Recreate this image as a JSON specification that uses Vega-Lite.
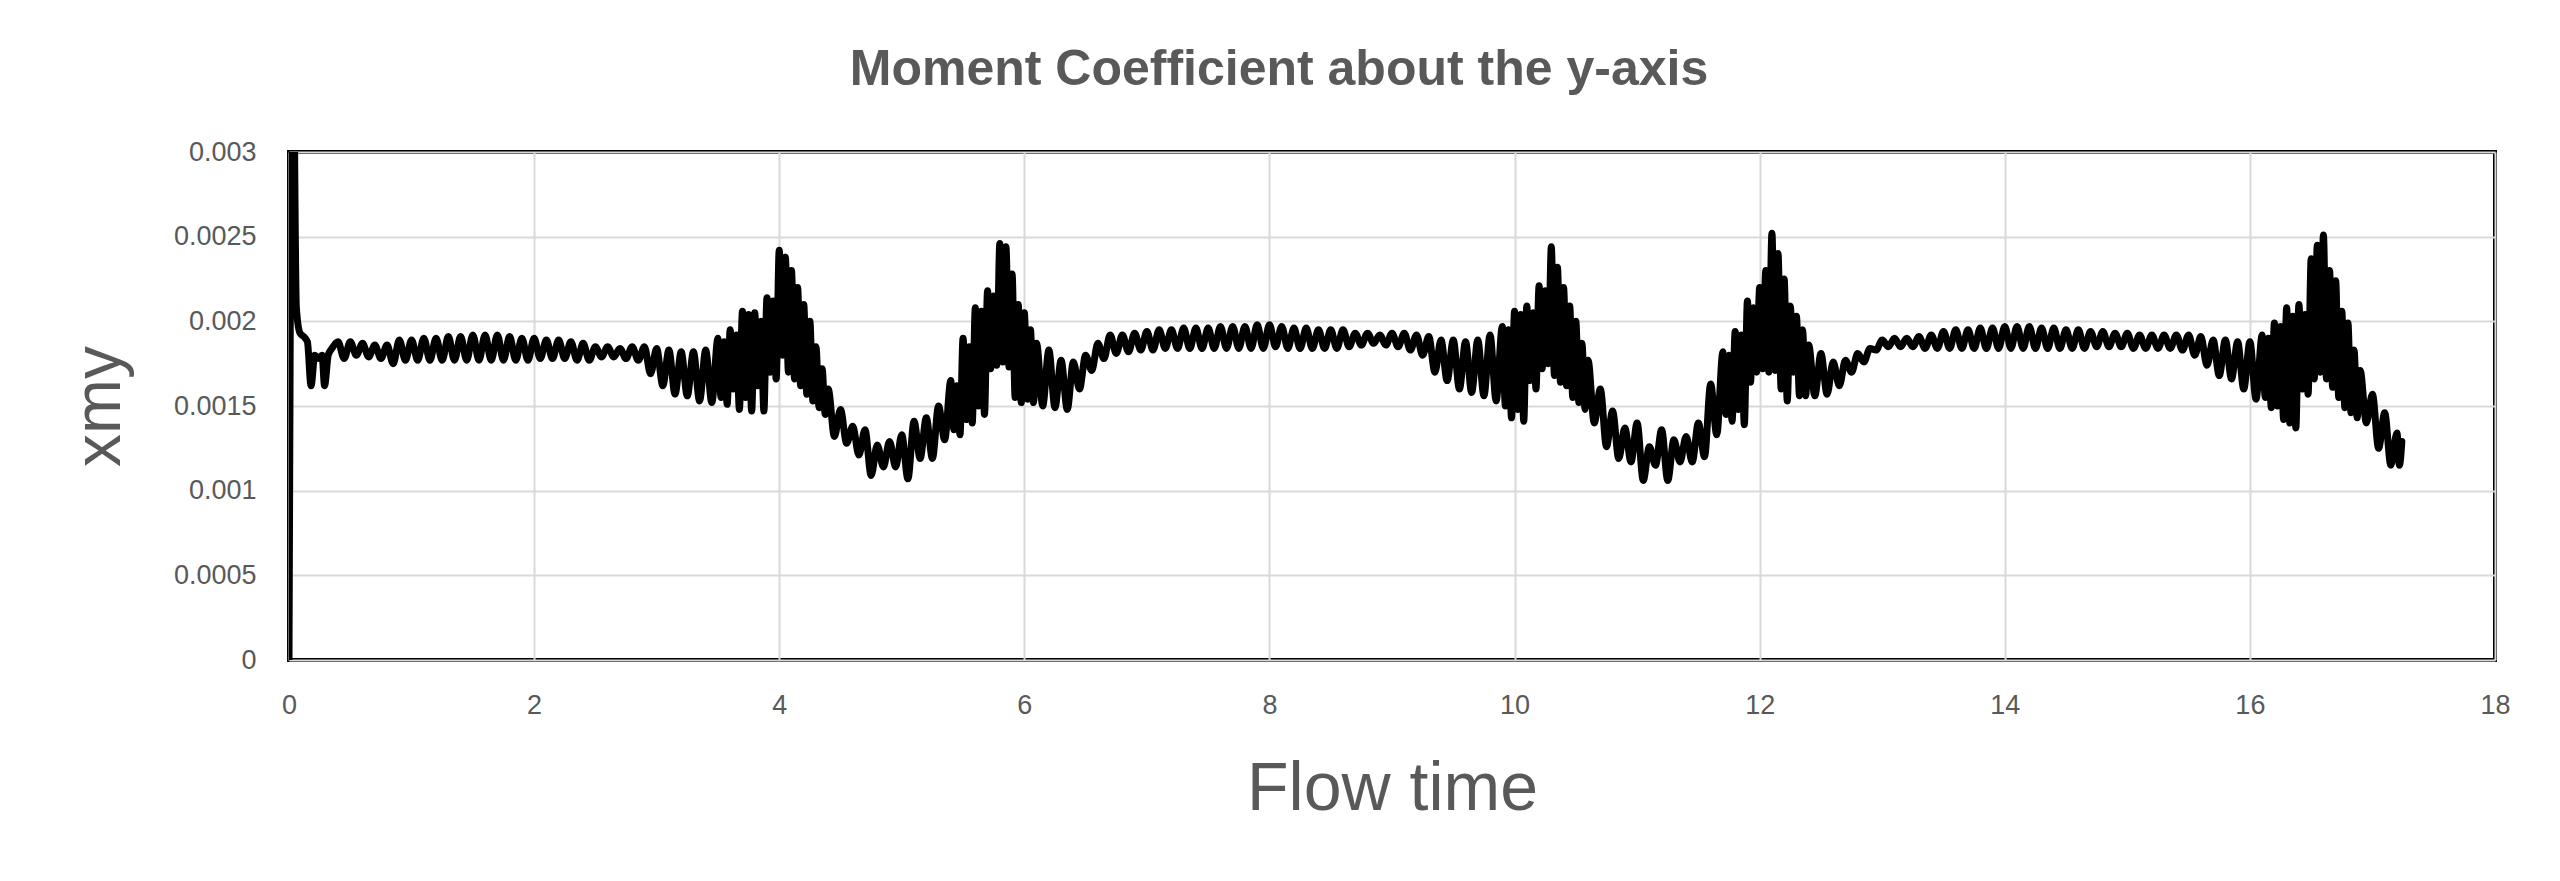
{
  "$schema": "https://vega.github.io/schema/vega-lite/v6.json",
  "width": 2206,
  "height": 508,
  "autosize": {"type": "none"},
  "padding": {"left": 289, "top": 152, "right": 65, "bottom": 221},
  "background": "white",
  "title": {
    "text": "Moment Coefficient about the y-axis",
    "font": "Liberation Sans",
    "fontSize": 50,
    "fontWeight": "bold",
    "color": "#595959",
    "anchor": "middle",
    "dx": -113,
    "baseline": "alphabetic",
    "offset": 3
  },
  "config": {
    "view": {"stroke": "#000000", "strokeWidth": 4},
    "axis": {
      "labelFont": "Liberation Sans",
      "titleFont": "Liberation Sans",
      "labelColor": "#595959",
      "titleColor": "#595959",
      "titleFontWeight": "normal",
      "gridColor": "#d9d9d9",
      "gridWidth": 2,
      "domain": false,
      "ticks": false
    }
  },
  "data": {
    "values": [
      {"t":0,"xmy":0},{"t":0.03,"xmy":0.004},{"t":0.06,"xmy":0.00208},{"t":0.09,"xmy":0.00193},{"t":0.12,"xmy":0.00191},{"t":0.15,"xmy":0.00188},{"t":0.18,"xmy":0.00162},{"t":0.21,"xmy":0.0018},{"t":0.24,"xmy":0.00178},{"t":0.27,"xmy":0.0018},{"t":0.29,"xmy":0.00162},{"t":0.32,"xmy":0.0018},{"t":0.35,"xmy":0.00184},
      {"t":0.4,"xmy":0.00188},{"t":0.45,"xmy":0.00178},{"t":0.5,"xmy":0.00188},{"t":0.55,"xmy":0.0018},{"t":0.6,"xmy":0.00187},{"t":0.65,"xmy":0.00179},{"t":0.7,"xmy":0.00186},{"t":0.75,"xmy":0.00178},{"t":0.8,"xmy":0.00186},{"t":0.85,"xmy":0.00175},{"t":0.9,"xmy":0.00189},{"t":0.95,"xmy":0.00177},
      {"t":1.0,"xmy":0.00189},{"t":1.05,"xmy":0.00177},{"t":1.1,"xmy":0.0019},{"t":1.15,"xmy":0.00177},{"t":1.2,"xmy":0.0019},{"t":1.25,"xmy":0.00177},{"t":1.3,"xmy":0.00191},{"t":1.35,"xmy":0.00177},{"t":1.4,"xmy":0.00191},{"t":1.45,"xmy":0.00177},{"t":1.5,"xmy":0.00192},{"t":1.55,"xmy":0.00177},{"t":1.6,"xmy":0.00192},{"t":1.65,"xmy":0.00177},{"t":1.7,"xmy":0.00192},{"t":1.75,"xmy":0.00177},{"t":1.8,"xmy":0.00191},{"t":1.85,"xmy":0.00177},{"t":1.9,"xmy":0.0019},{"t":1.95,"xmy":0.00177},
      {"t":2.0,"xmy":0.0019},{"t":2.05,"xmy":0.00178},{"t":2.1,"xmy":0.00189},{"t":2.15,"xmy":0.00178},{"t":2.2,"xmy":0.00189},{"t":2.25,"xmy":0.00178},{"t":2.3,"xmy":0.00188},{"t":2.35,"xmy":0.00177},{"t":2.4,"xmy":0.00187},{"t":2.45,"xmy":0.00177},{"t":2.5,"xmy":0.00185},{"t":2.55,"xmy":0.00179},{"t":2.6,"xmy":0.00185},{"t":2.65,"xmy":0.00179},{"t":2.7,"xmy":0.00184},{"t":2.75,"xmy":0.00178},{"t":2.8,"xmy":0.00185},{"t":2.85,"xmy":0.00177},{"t":2.9,"xmy":0.00185},{"t":2.95,"xmy":0.00169},
      {"t":3.0,"xmy":0.00184},{"t":3.05,"xmy":0.00162},{"t":3.1,"xmy":0.00183},{"t":3.15,"xmy":0.00157},{"t":3.2,"xmy":0.00182},{"t":3.25,"xmy":0.00156},{"t":3.3,"xmy":0.00182},{"t":3.35,"xmy":0.00153},{"t":3.4,"xmy":0.00183},{"t":3.45,"xmy":0.00152},
      {"t":3.5,"xmy":0.0019},{"t":3.525,"xmy":0.00155},{"t":3.55,"xmy":0.00188},{"t":3.575,"xmy":0.00151},{"t":3.6,"xmy":0.00195},{"t":3.625,"xmy":0.0016},{"t":3.65,"xmy":0.00192},{"t":3.675,"xmy":0.00148},{"t":3.7,"xmy":0.00206},{"t":3.725,"xmy":0.00155},{"t":3.75,"xmy":0.00204},{"t":3.775,"xmy":0.00147},{"t":3.8,"xmy":0.00205},{"t":3.825,"xmy":0.00162},{"t":3.85,"xmy":0.002},{"t":3.875,"xmy":0.00147},{"t":3.9,"xmy":0.00214},{"t":3.925,"xmy":0.0017},{"t":3.95,"xmy":0.00212},{"t":3.975,"xmy":0.00166},
      {"t":4.0,"xmy":0.00242},{"t":4.025,"xmy":0.0018},{"t":4.05,"xmy":0.00238},{"t":4.075,"xmy":0.0017},{"t":4.1,"xmy":0.0023},{"t":4.125,"xmy":0.00166},{"t":4.15,"xmy":0.0022},{"t":4.175,"xmy":0.00162},{"t":4.2,"xmy":0.0021},{"t":4.225,"xmy":0.00157},{"t":4.25,"xmy":0.002},{"t":4.275,"xmy":0.00153},{"t":4.3,"xmy":0.00185},{"t":4.325,"xmy":0.00149},{"t":4.35,"xmy":0.00172},{"t":4.375,"xmy":0.00145},
      {"t":4.4,"xmy":0.0016},{"t":4.45,"xmy":0.00132},{"t":4.5,"xmy":0.00148},{"t":4.55,"xmy":0.00128},{"t":4.6,"xmy":0.00138},{"t":4.65,"xmy":0.00121},{"t":4.7,"xmy":0.00136},{"t":4.75,"xmy":0.00109},{"t":4.8,"xmy":0.00127},{"t":4.85,"xmy":0.00114},{"t":4.9,"xmy":0.00129},{"t":4.95,"xmy":0.00114},
      {"t":5.0,"xmy":0.00133},{"t":5.05,"xmy":0.00107},{"t":5.1,"xmy":0.00141},{"t":5.15,"xmy":0.00119},{"t":5.2,"xmy":0.00143},{"t":5.25,"xmy":0.00119},{"t":5.3,"xmy":0.0015},{"t":5.35,"xmy":0.0013},
      {"t":5.4,"xmy":0.00165},{"t":5.425,"xmy":0.00136},{"t":5.45,"xmy":0.00162},{"t":5.475,"xmy":0.00133},{"t":5.5,"xmy":0.0019},{"t":5.525,"xmy":0.00142},{"t":5.55,"xmy":0.00185},{"t":5.575,"xmy":0.0014},{"t":5.6,"xmy":0.00208},{"t":5.625,"xmy":0.0015},{"t":5.65,"xmy":0.00206},{"t":5.675,"xmy":0.00145},{"t":5.7,"xmy":0.00218},{"t":5.725,"xmy":0.00172},{"t":5.75,"xmy":0.00215},{"t":5.775,"xmy":0.00174},{"t":5.8,"xmy":0.00246},{"t":5.825,"xmy":0.00176},{"t":5.85,"xmy":0.00244},{"t":5.875,"xmy":0.00173},{"t":5.9,"xmy":0.00228},{"t":5.925,"xmy":0.00155},{"t":5.95,"xmy":0.0021},{"t":5.975,"xmy":0.00152},{"t":6.0,"xmy":0.00205},{"t":6.025,"xmy":0.00154},{"t":6.05,"xmy":0.00195},{"t":6.075,"xmy":0.00152},
      {"t":6.1,"xmy":0.00187},{"t":6.15,"xmy":0.0015},{"t":6.2,"xmy":0.00183},{"t":6.25,"xmy":0.00149},{"t":6.3,"xmy":0.00177},{"t":6.35,"xmy":0.00148},{"t":6.4,"xmy":0.00176},{"t":6.45,"xmy":0.0016},{"t":6.5,"xmy":0.0018},{"t":6.55,"xmy":0.00171},{"t":6.6,"xmy":0.00187},{"t":6.65,"xmy":0.00178},{"t":6.7,"xmy":0.00192},{"t":6.75,"xmy":0.00181},{"t":6.8,"xmy":0.00192},{"t":6.85,"xmy":0.00182},{"t":6.9,"xmy":0.00193},{"t":6.95,"xmy":0.00183},
      {"t":7.0,"xmy":0.00194},{"t":7.05,"xmy":0.00183},{"t":7.1,"xmy":0.00195},{"t":7.15,"xmy":0.00184},{"t":7.2,"xmy":0.00195},{"t":7.25,"xmy":0.00184},{"t":7.3,"xmy":0.00196},{"t":7.35,"xmy":0.00184},{"t":7.4,"xmy":0.00196},{"t":7.45,"xmy":0.00184},{"t":7.5,"xmy":0.00196},{"t":7.55,"xmy":0.00184},{"t":7.6,"xmy":0.00197},{"t":7.65,"xmy":0.00184},{"t":7.7,"xmy":0.00197},{"t":7.75,"xmy":0.00184},{"t":7.8,"xmy":0.00197},{"t":7.85,"xmy":0.00184},{"t":7.9,"xmy":0.00198},{"t":7.95,"xmy":0.00184},
      {"t":8.0,"xmy":0.00198},{"t":8.05,"xmy":0.00185},{"t":8.1,"xmy":0.00197},{"t":8.15,"xmy":0.00184},{"t":8.2,"xmy":0.00196},{"t":8.25,"xmy":0.00184},{"t":8.3,"xmy":0.00196},{"t":8.35,"xmy":0.00184},{"t":8.4,"xmy":0.00195},{"t":8.45,"xmy":0.00184},{"t":8.5,"xmy":0.00195},{"t":8.55,"xmy":0.00184},{"t":8.6,"xmy":0.00195},{"t":8.65,"xmy":0.00185},{"t":8.7,"xmy":0.00193},{"t":8.75,"xmy":0.00186},{"t":8.8,"xmy":0.00193},{"t":8.85,"xmy":0.00187},{"t":8.9,"xmy":0.00192},{"t":8.95,"xmy":0.00186},
      {"t":9.0,"xmy":0.00193},{"t":9.05,"xmy":0.00185},{"t":9.1,"xmy":0.00193},{"t":9.15,"xmy":0.00183},{"t":9.2,"xmy":0.00192},{"t":9.25,"xmy":0.0018},{"t":9.3,"xmy":0.00191},{"t":9.35,"xmy":0.0017},{"t":9.4,"xmy":0.00189},{"t":9.45,"xmy":0.00165},{"t":9.5,"xmy":0.00189},{"t":9.55,"xmy":0.0016},{"t":9.6,"xmy":0.00188},{"t":9.65,"xmy":0.00158},{"t":9.7,"xmy":0.00189},{"t":9.75,"xmy":0.00156},{"t":9.8,"xmy":0.00192},{"t":9.85,"xmy":0.00153},
      {"t":9.9,"xmy":0.00197},{"t":9.925,"xmy":0.0015},{"t":9.95,"xmy":0.00195},{"t":9.975,"xmy":0.00143},{"t":10.0,"xmy":0.00206},{"t":10.025,"xmy":0.00148},{"t":10.05,"xmy":0.00204},{"t":10.075,"xmy":0.00141},{"t":10.1,"xmy":0.00209},{"t":10.125,"xmy":0.00165},{"t":10.15,"xmy":0.00205},{"t":10.175,"xmy":0.0016},{"t":10.2,"xmy":0.00221},{"t":10.225,"xmy":0.00172},{"t":10.25,"xmy":0.00218},{"t":10.275,"xmy":0.00175},{"t":10.3,"xmy":0.00244},{"t":10.325,"xmy":0.00168},{"t":10.35,"xmy":0.00232},{"t":10.375,"xmy":0.00164},{"t":10.4,"xmy":0.0022},{"t":10.425,"xmy":0.00162},{"t":10.45,"xmy":0.00209},{"t":10.475,"xmy":0.00155},{"t":10.5,"xmy":0.002},{"t":10.525,"xmy":0.00152},{"t":10.55,"xmy":0.00187},{"t":10.575,"xmy":0.00148},
      {"t":10.6,"xmy":0.00177},{"t":10.65,"xmy":0.0014},{"t":10.7,"xmy":0.0016},{"t":10.75,"xmy":0.00126},{"t":10.8,"xmy":0.00147},{"t":10.85,"xmy":0.00119},{"t":10.9,"xmy":0.00137},{"t":10.95,"xmy":0.00117},
      {"t":11.0,"xmy":0.0014},{"t":11.05,"xmy":0.00106},{"t":11.1,"xmy":0.00126},{"t":11.15,"xmy":0.00115},{"t":11.2,"xmy":0.00136},{"t":11.25,"xmy":0.00106},{"t":11.3,"xmy":0.0013},{"t":11.35,"xmy":0.00117},{"t":11.4,"xmy":0.00132},{"t":11.45,"xmy":0.00117},{"t":11.5,"xmy":0.0014},{"t":11.55,"xmy":0.0012},{"t":11.6,"xmy":0.00163},{"t":11.65,"xmy":0.00133},
      {"t":11.7,"xmy":0.00182},{"t":11.725,"xmy":0.00145},{"t":11.75,"xmy":0.0018},{"t":11.775,"xmy":0.00141},{"t":11.8,"xmy":0.00194},{"t":11.825,"xmy":0.00148},{"t":11.85,"xmy":0.00192},{"t":11.875,"xmy":0.00139},{"t":11.9,"xmy":0.00212},{"t":11.925,"xmy":0.00164},{"t":11.95,"xmy":0.00208},{"t":11.975,"xmy":0.0017},{"t":12.0,"xmy":0.0022},{"t":12.025,"xmy":0.00172},{"t":12.05,"xmy":0.0023},{"t":12.075,"xmy":0.0017},{"t":12.1,"xmy":0.00252},{"t":12.125,"xmy":0.00171},{"t":12.15,"xmy":0.0024},{"t":12.175,"xmy":0.0016},{"t":12.2,"xmy":0.00225},{"t":12.225,"xmy":0.00153},{"t":12.25,"xmy":0.00209},{"t":12.275,"xmy":0.0017},{"t":12.3,"xmy":0.00203},{"t":12.325,"xmy":0.00156},{"t":12.35,"xmy":0.00195},{"t":12.375,"xmy":0.00156},
      {"t":12.4,"xmy":0.00186},{"t":12.45,"xmy":0.00156},{"t":12.5,"xmy":0.00181},{"t":12.55,"xmy":0.00157},{"t":12.6,"xmy":0.00176},{"t":12.65,"xmy":0.00162},{"t":12.7,"xmy":0.00177},{"t":12.75,"xmy":0.0017},{"t":12.8,"xmy":0.00181},{"t":12.85,"xmy":0.00176},{"t":12.9,"xmy":0.00184},{"t":12.95,"xmy":0.00183},
      {"t":13.0,"xmy":0.00189},{"t":13.05,"xmy":0.00185},{"t":13.1,"xmy":0.0019},{"t":13.15,"xmy":0.00185},{"t":13.2,"xmy":0.0019},{"t":13.25,"xmy":0.00185},{"t":13.3,"xmy":0.00191},{"t":13.35,"xmy":0.00184},{"t":13.4,"xmy":0.00192},{"t":13.45,"xmy":0.00184},{"t":13.5,"xmy":0.00194},{"t":13.55,"xmy":0.00184},{"t":13.6,"xmy":0.00195},{"t":13.65,"xmy":0.00184},{"t":13.7,"xmy":0.00195},{"t":13.75,"xmy":0.00184},{"t":13.8,"xmy":0.00196},{"t":13.85,"xmy":0.00184},{"t":13.9,"xmy":0.00196},{"t":13.95,"xmy":0.00184},
      {"t":14.0,"xmy":0.00197},{"t":14.05,"xmy":0.00184},{"t":14.1,"xmy":0.00197},{"t":14.15,"xmy":0.00184},{"t":14.2,"xmy":0.00197},{"t":14.25,"xmy":0.00184},{"t":14.3,"xmy":0.00196},{"t":14.35,"xmy":0.00184},{"t":14.4,"xmy":0.00196},{"t":14.45,"xmy":0.00184},{"t":14.5,"xmy":0.00195},{"t":14.55,"xmy":0.00184},{"t":14.6,"xmy":0.00195},{"t":14.65,"xmy":0.00184},{"t":14.7,"xmy":0.00194},{"t":14.75,"xmy":0.00185},{"t":14.8,"xmy":0.00194},{"t":14.85,"xmy":0.00185},{"t":14.9,"xmy":0.00193},{"t":14.95,"xmy":0.00185},
      {"t":15.0,"xmy":0.00193},{"t":15.05,"xmy":0.00184},{"t":15.1,"xmy":0.00192},{"t":15.15,"xmy":0.00184},{"t":15.2,"xmy":0.00192},{"t":15.25,"xmy":0.00184},{"t":15.3,"xmy":0.00192},{"t":15.35,"xmy":0.00184},{"t":15.4,"xmy":0.00192},{"t":15.45,"xmy":0.00183},{"t":15.5,"xmy":0.00192},{"t":15.55,"xmy":0.0018},{"t":15.6,"xmy":0.00191},{"t":15.65,"xmy":0.00174},{"t":15.7,"xmy":0.00189},{"t":15.75,"xmy":0.00168},{"t":15.8,"xmy":0.00189},{"t":15.85,"xmy":0.00166},{"t":15.9,"xmy":0.00188},{"t":15.95,"xmy":0.0016},
      {"t":16.0,"xmy":0.00188},{"t":16.05,"xmy":0.00154},
      {"t":16.1,"xmy":0.00192},{"t":16.125,"xmy":0.00155},{"t":16.15,"xmy":0.0019},{"t":16.175,"xmy":0.00149},{"t":16.2,"xmy":0.00199},{"t":16.225,"xmy":0.0015},{"t":16.25,"xmy":0.00197},{"t":16.275,"xmy":0.00142},{"t":16.3,"xmy":0.00208},{"t":16.325,"xmy":0.0014},{"t":16.35,"xmy":0.00203},{"t":16.375,"xmy":0.00137},{"t":16.4,"xmy":0.0021},{"t":16.425,"xmy":0.0016},{"t":16.45,"xmy":0.00204},{"t":16.475,"xmy":0.00157},{"t":16.5,"xmy":0.00237},{"t":16.525,"xmy":0.00166},{"t":16.55,"xmy":0.00245},{"t":16.575,"xmy":0.0017},{"t":16.6,"xmy":0.00251},{"t":16.625,"xmy":0.00166},{"t":16.65,"xmy":0.0023},{"t":16.675,"xmy":0.00161},{"t":16.7,"xmy":0.00224},{"t":16.725,"xmy":0.00155},{"t":16.75,"xmy":0.00206},{"t":16.775,"xmy":0.00149},{"t":16.8,"xmy":0.00199},{"t":16.825,"xmy":0.00146},{"t":16.85,"xmy":0.00183},{"t":16.875,"xmy":0.00143},
      {"t":16.9,"xmy":0.00171},{"t":16.95,"xmy":0.0014},
      {"t":17.0,"xmy":0.00157},{"t":17.05,"xmy":0.00125},{"t":17.1,"xmy":0.00146},{"t":17.15,"xmy":0.00115},{"t":17.2,"xmy":0.00134},{"t":17.22,"xmy":0.00115},{"t":17.24,"xmy":0.00129}
    ]
  },
  "mark": {
    "type": "line",
    "color": "#000000",
    "strokeWidth": 7,
    "strokeJoin": "round",
    "strokeCap": "round",
    "interpolate": "monotone",
    "clip": true
  },
  "encoding": {
    "x": {
      "field": "t",
      "type": "quantitative",
      "scale": {"domain": [0, 18], "nice": false, "zero": false},
      "axis": {
        "values": [0, 2, 4, 6, 8, 10, 12, 14, 16, 18],
        "title": "Flow time",
        "titleFontSize": 68,
        "titlePadding": 37,
        "labelFontSize": 27,
        "labelPadding": 32,
        "labelFlush": false,
        "grid": true
      }
    },
    "y": {
      "field": "xmy",
      "type": "quantitative",
      "scale": {"domain": [0, 0.003], "nice": false, "zero": true},
      "axis": {
        "values": [0, 0.0005, 0.001, 0.0015, 0.002, 0.0025, 0.003],
        "format": "~g",
        "title": "xmy",
        "titleFontSize": 66,
        "titlePadding": 40,
        "labelFontSize": 27,
        "labelPadding": 33,
        "grid": true
      }
    }
  }
}
